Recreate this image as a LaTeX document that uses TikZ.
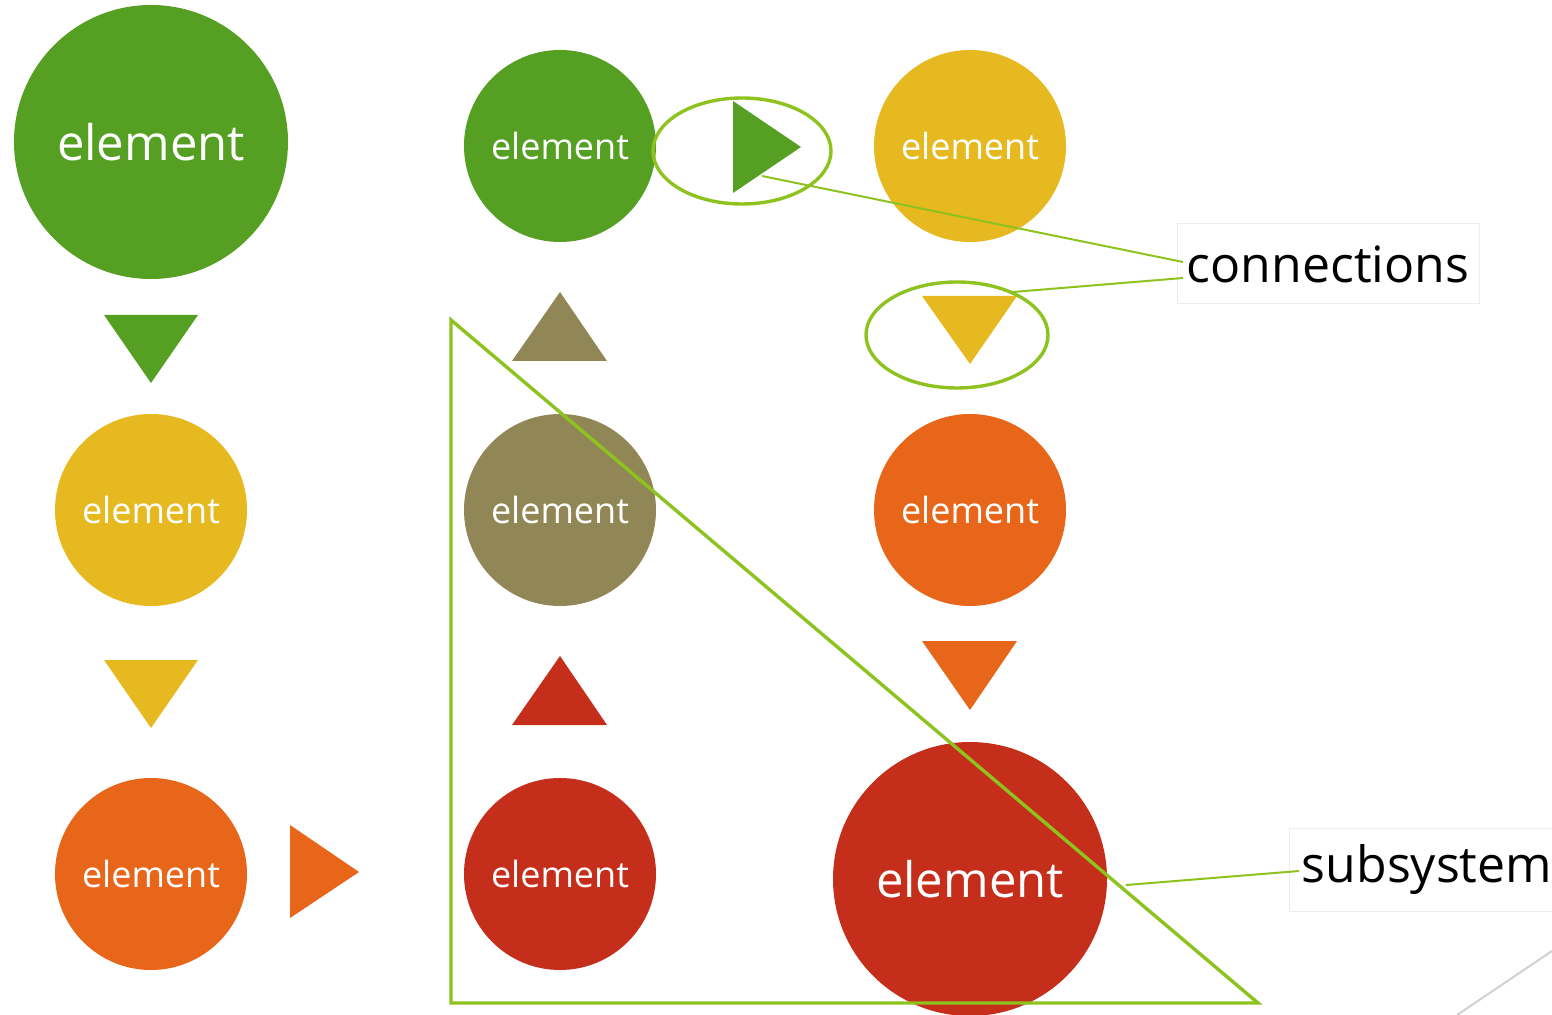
\documentclass[tikz,border=0pt]{standalone}
\usepackage{fontspec}
\setmainfont{Open Sans}
\usetikzlibrary{calc}

\definecolor{elgreen}{HTML}{55A023}
\definecolor{elyellow}{HTML}{E5B91F}
\definecolor{elorange}{HTML}{E7661A}
\definecolor{elkhaki}{HTML}{918756}
\definecolor{elred}{HTML}{C42E1A}
\definecolor{lime}{HTML}{8DC21F}

\begin{document}
\begin{tikzpicture}[x=0.5pt, y=-0.5pt,
  element/.style={circle, inner sep=0pt, minimum size=96pt, text=white,
    font=\fontsize{18}{20}\selectfont},
  bigelement/.style={element, minimum size=137pt, font=\fontsize{24.5}{28}\selectfont},
  ring/.style={draw=lime, line width=1.7pt},
  callout/.style={draw=lime, line width=1pt},
  label/.style={draw=black!7, line width=0.5pt, fill=white, inner sep=0pt,
    font=\fontsize{25}{28}\selectfont}]
\useasboundingbox (0,0) rectangle (1552,1015);

% elements
\node[bigelement, fill=elgreen] (e11) at (151,142) {element};
\node[element, fill=elyellow] (e21) at (151,510) {element};
\node[element, fill=elorange] (e31) at (151,874) {element};
\node[element, fill=elgreen] (e12) at (560,146) {element};
\node[element, fill=elkhaki] (e22) at (560,510) {element};
\node[element, fill=elred] (e32) at (560,874) {element};
\node[element, fill=elyellow] (e13) at (970,146) {element};
\node[element, fill=elorange] (e23) at (970,510) {element};
\node[bigelement, fill=elred] (e33) at (970,879) {element};

% connections
\fill[elgreen] (104,315) -- (198,315) -- (151,383) -- cycle;
\fill[elyellow] (104,660) -- (198,660) -- (151,728) -- cycle;
\fill[elorange] (290,825) -- (290,918) -- (359,872) -- cycle;
\fill[elgreen] (733,101) -- (733,193) -- (801,147) -- cycle;
\fill[elkhaki] (512,361) -- (607,361) -- (560,292) -- cycle;
\fill[elred] (512,725) -- (607,725) -- (560,656) -- cycle;
\fill[elyellow] (922,296) -- (1017,296) -- (970,364) -- cycle;
\fill[elorange] (922,641) -- (1017,641) -- (970,710) -- cycle;

\draw[ring] (742,151) ellipse [x radius=89, y radius=53];
\draw[ring] (957,335) ellipse [x radius=91, y radius=53];

% subsystem
\draw[ring] (451,320) -- (451,1003) -- (1258,1003) -- cycle;

% labels
\node[label, minimum width=151pt, minimum height=40pt] (conn) at (1328,264) {connections};
\node[label, minimum width=138pt, minimum height=41.5pt] (subs) at (1427,869.5) {subsystem};

\coordinate (conn-a) at (1183,262);
\coordinate (conn-b) at (1183,278);
\coordinate (subs-a) at (1299,871);
\coordinate (tip-a) at (762,176);
\coordinate (tip-b) at (1013,292);
\coordinate (tip-c) at (1126,885);
\draw[callout] (conn-a) -- (tip-a);
\draw[callout] (conn-b) -- (tip-b);
\draw[callout] (subs-a) -- (tip-c);

\coordinate (edge-a) at (1552,951);
\coordinate (edge-b) at (1457,1015);
\draw[black!18, line width=1pt] (edge-a) -- (edge-b);
\end{tikzpicture}
\end{document}
